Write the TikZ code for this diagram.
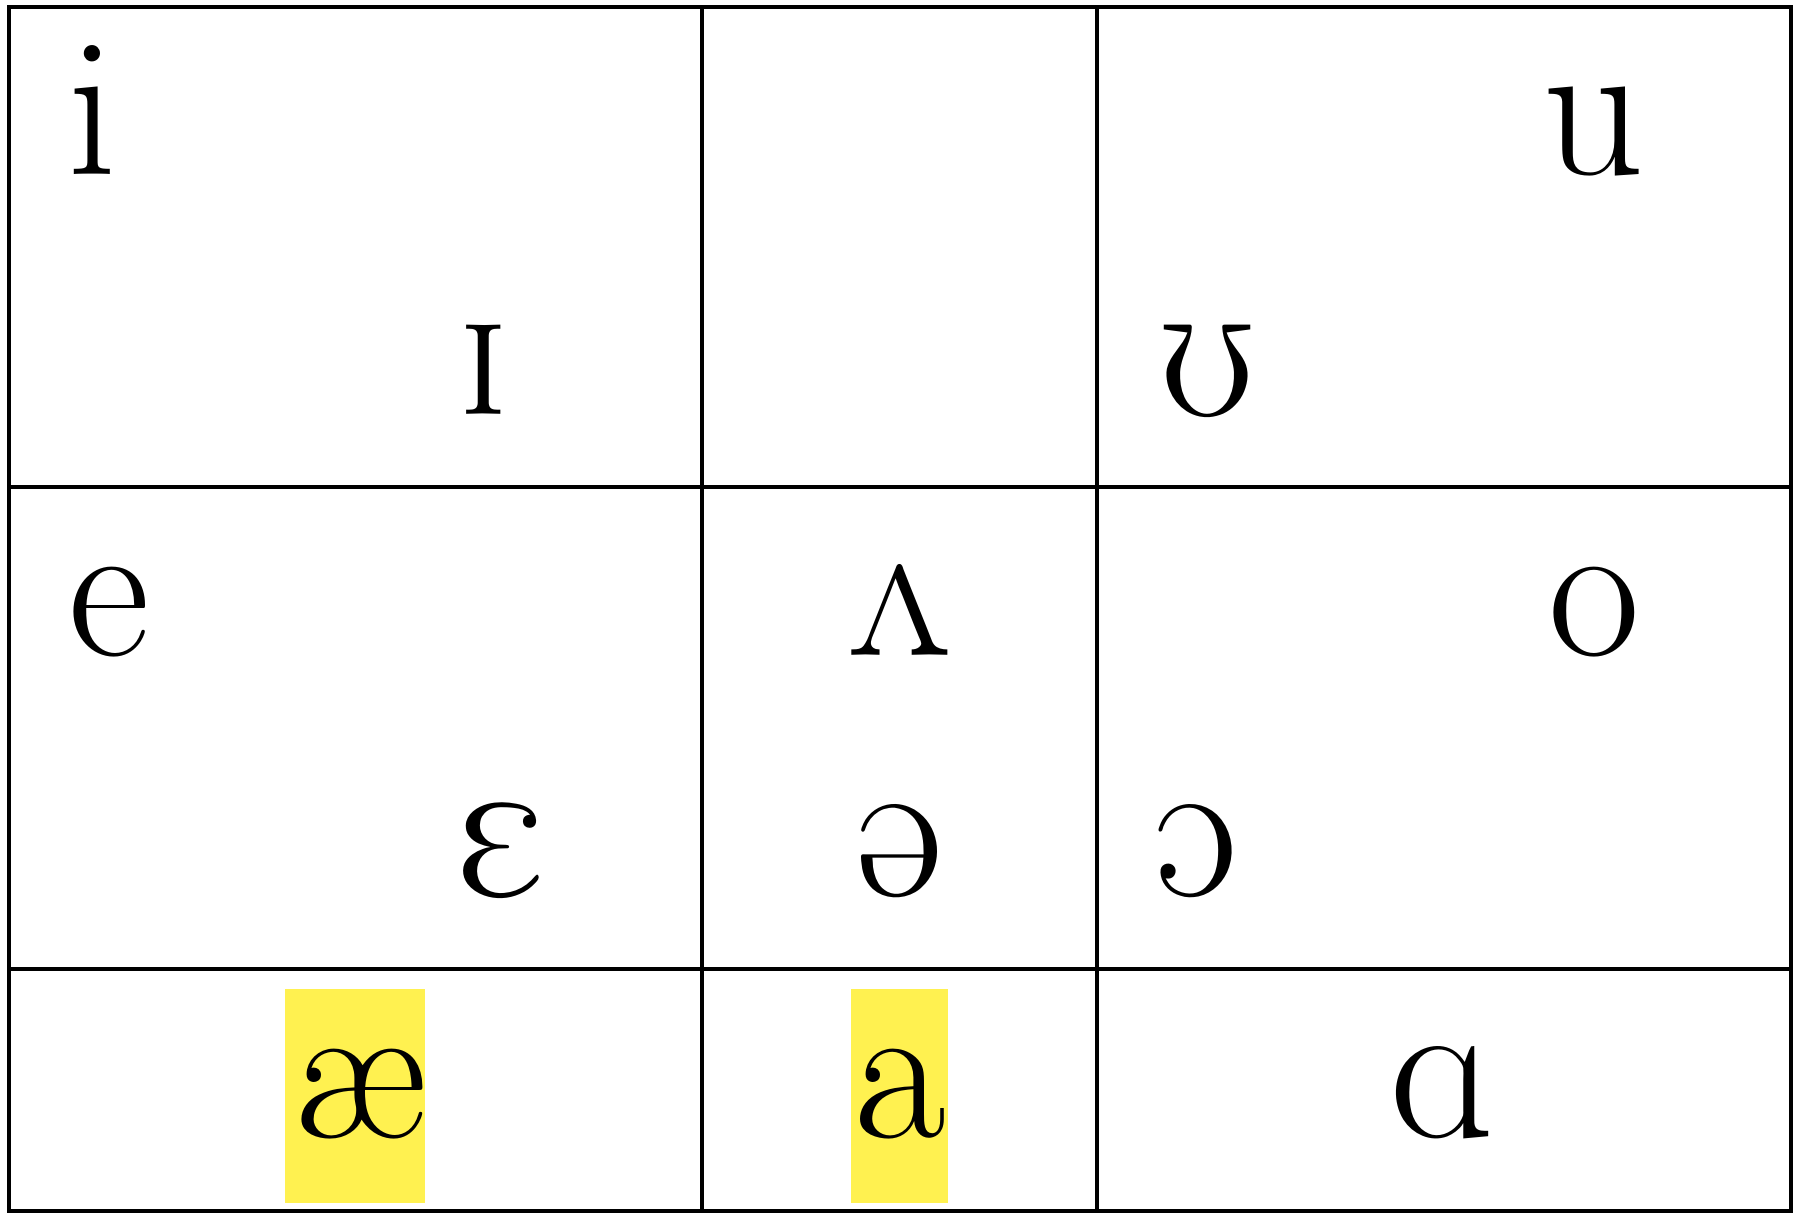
\documentclass[tikz,border=0pt]{standalone}
\usepackage{tipa}
\definecolor{hilite}{RGB}{255,241,80}
\begin{document}
\begin{tikzpicture}[x=0.1pt,y=-0.1pt,line width=0.38pt,
  vowel/.style={anchor=base,inner sep=0pt,font=\fontsize{20}{24}\selectfont}]
  \useasboundingbox (0,0) rectangle (1798,1220);
  \fill[hilite] (285,989) rectangle (425,1203);
  \fill[hilite] (851,989) rectangle (948,1203);
  \draw (9,7) rectangle (1791,1211);
  \draw (702,7) -- (702,1211);
  \draw (1097,7) -- (1097,1211);
  \draw (9,487) -- (1791,487);
  \draw (9,969) -- (1791,969);
  \node[vowel] (vi) at (93,175) {i};
  \node[vowel] (vu) at (1594,175) {u};
  \node[vowel] (vsci) at (484,415) {\textsci};
  \node[vowel] (vups) at (1208,415) {\textupsilon};
  \node[vowel] (ve) at (109,656) {e};
  \node[vowel] (vturnv) at (900,656) {\textturnv};
  \node[vowel] (vo) at (1594,656) {o};
  \node[vowel] (veps) at (502,896) {\textepsilon};
  \node[vowel] (vschwa) at (900,896) {\textschwa};
  \node[vowel] (vopeno) at (1197,896) {\textopeno};
  \node[vowel] (vae) at (360,1138) {\ae};
  \node[vowel] (va) at (900,1138) {a};
  \node[vowel] (vscripta) at (1443,1138) {\textscripta};
\end{tikzpicture}
\end{document}
